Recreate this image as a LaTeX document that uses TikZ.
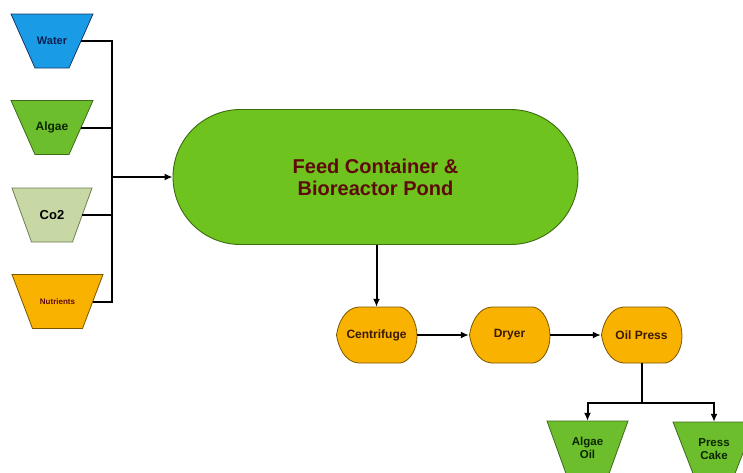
\documentclass[tikz,border=0pt]{standalone}
\usepackage{fontspec}
\setmainfont{Liberation Sans}
\usetikzlibrary{arrows.meta,shapes.misc}
\definecolor{waterfill}{HTML}{1A9BE6}
\definecolor{waterdraw}{HTML}{1A3A6A}
\definecolor{algfill}{HTML}{6DBE2D}
\definecolor{algdraw}{HTML}{3E6B1A}
\definecolor{cofill}{HTML}{C7D8A4}
\definecolor{codraw}{HTML}{6E7F55}
\definecolor{orfill}{HTML}{F9B200}
\definecolor{ordraw}{HTML}{7A5500}
\definecolor{mainfill}{HTML}{6EC31E}
\definecolor{maindraw}{HTML}{3D6B12}
\definecolor{maintext}{HTML}{5E0A0A}
\definecolor{navytext}{HTML}{0A2050}
\definecolor{browntext}{HTML}{3A1A00}
\definecolor{greentext}{HTML}{0A2600}
\newcommand\trapnode[8]{%
  \draw[#6] (#2-#4,#3-27) -- (#2+#4,#3-27) -- (#2+#5,#3+27) -- (#2-#5,#3+27) -- cycle;
  \node[traptext,#7,minimum width={#4+#5}] (#1) at (#2,#3) {#8};}
\newcommand\dispnode[3]{%
  \draw[dispshape,shift={(#2)}] (-40,0) .. controls (-38.5,-11) and (-32,-27) .. (-18,-28)
    -- (24,-28) .. controls (34,-26) and (40.5,-12) .. (40.5,1)
    .. controls (40.5,14) and (34,26) .. (24,28) -- (-18,28)
    .. controls (-32,27) and (-38.5,11) .. (-40,0) -- cycle;
  \node[disptext] (#1) at (#2) {#3};}
\begin{document}
\begin{tikzpicture}[x=1pt,y=-1pt,
  traptext/.style={inner sep=0pt,minimum height=54pt,font=\bfseries,align=center},
  dispshape/.style={fill=orfill,draw=ordraw,line width=0.8pt},
  disptext/.style={inner sep=0pt,minimum width=81pt,minimum height=56pt,font=\fontsize{12}{14}\selectfont\bfseries,text=browntext},
  line/.style={line width=2pt,draw=black},
  arr/.style={line width=2pt,draw=black,-{Latex[length=8pt,width=7pt]}}]
\useasboundingbox[fill=white] (0,0) rectangle (743,472);
% sources
\trapnode{water}{52}{41}{41}{17}{fill=waterfill,draw=waterdraw,line width=0.8pt}{font=\fontsize{11}{13}\selectfont\bfseries,text=navytext}{Water}
\trapnode{algae}{52}{127.5}{41}{17}{fill=algfill,draw=algdraw,line width=0.8pt}{font=\fontsize{12}{14}\selectfont\bfseries,text=greentext}{Algae}
\trapnode{co2}{52}{215}{40}{20.5}{fill=cofill,draw=codraw,line width=0.8pt}{font=\fontsize{13}{15}\selectfont\bfseries,text=black}{Co2}
\trapnode{nutr}{57.5}{301.5}{45.5}{25}{fill=orfill,draw=ordraw,line width=0.8pt}{font=\fontsize{8}{10}\selectfont\bfseries,text=maintext}{Nutrients}
% main pond
\node[rounded rectangle,fill=mainfill,draw=maindraw,line width=0.9pt,minimum width=405pt,minimum height=135pt,inner sep=0pt,
  font=\fontsize{20}{22}\selectfont\bfseries,text=maintext,align=center] (main) at (375.5,177) {Feed Container \&\\Bioreactor Pond};
% processing
\dispnode{cen}{376.5,335}{Centrifuge}
\dispnode{dry}{509.5,335}{Dryer}
\dispnode{oil}{641.5,335}{Oil Press}
% products
\trapnode{aoil}{587.5}{448}{40.5}{21}{fill=algfill,draw=algdraw,line width=0.8pt}{font=\fontsize{11.5}{12.5}\selectfont\bfseries,text=greentext}{Algae\\Oil}
\trapnode{pcake}{714}{449}{41}{20}{fill=algfill,draw=algdraw,line width=0.8pt}{font=\fontsize{11.5}{12.5}\selectfont\bfseries,text=greentext}{Press\\Cake}
% connectors
\coordinate (busx) at (112,0);
\draw[line] (water.east) -- (water.east -| busx) -- (nutr.east -| busx) -- (nutr.east);
\draw[line] (algae.east) -- (algae.east -| busx);
\draw[line] (co2.east) -- (co2.east -| busx);
\draw[arr] (main.west -| busx) -- (main.west);
\draw[arr] (cen.north |- main.south) -- (cen.north);
\draw[arr] (cen.east) -- (dry.west);
\draw[arr] (dry.east) -- (oil.west);
\coordinate (sp) at (641.5,403);
\draw[line] (oil.south) -- (oil.south |- sp);
\draw[arr] (oil.south |- sp) -| (aoil.north);
\draw[arr] (oil.south |- sp) -| (pcake.north);
\end{tikzpicture}
\end{document}
